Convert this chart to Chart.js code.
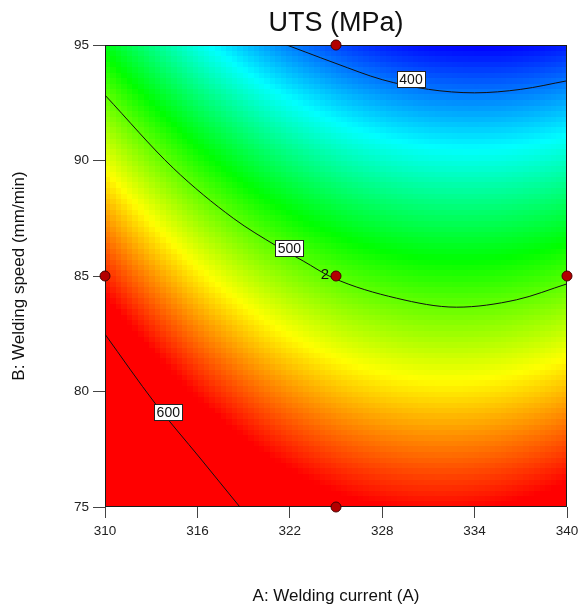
<!DOCTYPE html>
<html>
<head>
<meta charset="utf-8">
<script src="https://cdn.jsdelivr.net/npm/chart.js@4.4.1/dist/chart.umd.min.js"></script>
<style>
  html, body { margin:0; padding:0; background:#fff; }
  #wrap { width:580px; height:609px; position:relative; }
</style>
</head>
<body>
<div id="wrap"><canvas id="chart" width="580" height="609"></canvas></div>
<script>
/********************
 * Data
 ********************/
const chartTitle = "UTS (MPa)";
const currentRange = [310, 340];            // A: Welding current (A)
const speedRange = [75, 95];                // B: Welding speed (mm/min)
const currentTicks = [310, 316, 322, 328, 334, 340];
const speedTicks = [75, 80, 85, 90, 95];

// quadratic response surface in coded units: b0, A, B, AB, A^2, B^2
const utsModel = [498.4, -40.8, -99.9, -7.0, 38.3, -7.7];
// UTS values shown as pure blue / pure red
const colorRange = [376, 585];

// design points
const pointCurrent = [325, 310, 325, 340, 325];
const pointSpeed = [95, 85, 85, 85, 75];
const pointCount = [1, 1, 2, 1, 1];

// contour lines
const contourLevels = [400, 500, 600];
const contour400A = [321.8, 323, 325, 328, 331, 334, 337, 340];
const contour400B = [95, 94.7, 94.2, 93.5, 93.08, 92.93, 93.08, 93.45];
const contour500A = [310, 314.43, 318.33, 321.14, 322.87, 324.8, 328.93, 332.82, 336.72, 340];
const contour500B = [92.83, 89.67, 87.5, 86.3, 85.65, 84.92, 84.04, 83.65, 83.97, 84.66];
const contour600A = [310, 313.24, 316.17, 318.76];
const contour600B = [82.48, 79.50, 77.12, 75.0];
const contourLabelA = [329.87, 321.97, 314.11];
const contourLabelB = [93.51, 86.21, 79.11];

/********************
 * Helpers
 ********************/
const FONT = "Arial, 'Liberation Sans', sans-serif";
const GRID_CELLS = 84;
const COLOR_STOPS = [[0,0,255],[0,255,255],[0,255,0],[255,255,0],[255,0,0]];

function uts(A, B){
  const a = (A - (currentRange[0] + currentRange[1]) / 2) / ((currentRange[1] - currentRange[0]) / 2);
  const b = (B - (speedRange[0] + speedRange[1]) / 2) / ((speedRange[1] - speedRange[0]) / 2);
  const [b0, b1, b2, b12, b11, b22] = utsModel;
  return b0 + b1*a + b2*b + b12*a*b + b11*a*a + b22*b*b;
}

function colorFor(v){
  let t = (v - colorRange[0]) / (colorRange[1] - colorRange[0]);
  t = Math.max(0, Math.min(1, t)) * (COLOR_STOPS.length - 1);
  const i = Math.min(COLOR_STOPS.length - 2, Math.floor(t));
  const f = t - i;
  const c0 = COLOR_STOPS[i], c1 = COLOR_STOPS[i+1];
  const c = c0.map((x, k) => Math.round(x + (c1[k] - x) * f));
  return `rgb(${c[0]},${c[1]},${c[2]})`;
}

function toXY(xs, ys){
  return xs.map((x, i) => ({ x, y: ys[i] }));
}

/********************
 * Plugins
 ********************/
const heatmapPlugin = {
  id: "heatmap",
  beforeDatasetsDraw(chart){
    const { ctx, chartArea, scales: { x, y } } = chart;
    const dA = (currentRange[1] - currentRange[0]) / GRID_CELLS;
    const dB = (speedRange[1] - speedRange[0]) / GRID_CELLS;
    // shared cell edges so neighbouring cells never leave a gap
    const xEdge = [], yEdge = [];
    for(let i = 0; i <= GRID_CELLS; i++){
      xEdge.push(Math.round(x.getPixelForValue(currentRange[0] + i*dA)));
      yEdge.push(Math.round(y.getPixelForValue(speedRange[0] + i*dB)));
    }
    ctx.save();
    for(let i = 0; i < GRID_CELLS; i++){
      const A = currentRange[0] + (i + 0.5)*dA;
      for(let j = 0; j < GRID_CELLS; j++){
        const B = speedRange[0] + (j + 0.5)*dB;
        ctx.fillStyle = colorFor(uts(A, B));
        ctx.fillRect(xEdge[i], yEdge[j+1], xEdge[i+1] - xEdge[i], yEdge[j] - yEdge[j+1]);
      }
    }
    // frame
    ctx.strokeStyle = "#1a1a1a";
    ctx.lineWidth = 1;
    ctx.strokeRect(Math.round(chartArea.left) + 0.5, Math.round(chartArea.top) + 0.5,
      Math.round(chartArea.width) - 1, Math.round(chartArea.height) - 1);
    ctx.restore();
  }
};

const labelPlugin = {
  id: "labels",
  afterDatasetsDraw(chart){
    const { ctx, chartArea, scales: { x, y } } = chart;
    ctx.save();
    // title, centred over the plot
    ctx.font = `27px ${FONT}`;
    ctx.textAlign = "center";
    ctx.textBaseline = "middle";
    ctx.fillStyle = "#111";
    ctx.fillText(chartTitle, (chartArea.left + chartArea.right) / 2, 24);

    // contour labels
    ctx.font = `14px ${FONT}`;
    contourLevels.forEach((lvl, i) => {
      const cx = x.getPixelForValue(contourLabelA[i]);
      const cy = y.getPixelForValue(contourLabelB[i]);
      const w = 28, h = 16;
      const l = Math.round(cx - w/2) + 0.5, t = Math.round(cy - h/2) + 0.5;
      ctx.fillStyle = "#fff";
      ctx.fillRect(l, t, w, h);
      ctx.strokeStyle = "#222";
      ctx.lineWidth = 1;
      ctx.strokeRect(l, t, w, h);
      ctx.fillStyle = "#111";
      ctx.fillText(String(lvl), cx, cy + 1);
    });
    // replicate counts
    ctx.textAlign = "right";
    ctx.font = `15px ${FONT}`;
    pointCount.forEach((n, i) => {
      if(n < 2) return;
      const px = x.getPixelForValue(pointCurrent[i]);
      const py = y.getPixelForValue(pointSpeed[i]);
      ctx.fillStyle = "#111";
      ctx.fillText(String(n), px - 7, py - 1);
    });
    ctx.restore();
  }
};

/********************
 * Chart
 ********************/
const lineStyle = {
  showLine: true,
  borderColor: "#111",
  borderWidth: 1,
  pointRadius: 0,
  cubicInterpolationMode: "monotone",
  fill: false
};

new Chart(document.getElementById("chart"), {
  type: "scatter",
  data: {
    datasets: [
      { label: "Design points", data: toXY(pointCurrent, pointSpeed),
        pointRadius: 5, pointBackgroundColor: "#b30000", pointBorderColor: "#4a0000",
        pointBorderWidth: 1, clip: false, order: 0 },
      { label: "400", data: toXY(contour400A, contour400B), ...lineStyle, order: 1 },
      { label: "500", data: toXY(contour500A, contour500B), ...lineStyle, order: 1 },
      { label: "600", data: toXY(contour600A, contour600B), ...lineStyle, order: 1 }
    ]
  },
  options: {
    responsive: false,
    animation: false,
    events: [],
    layout: { padding: { top: 45, right: 13, bottom: 0, left: 0 } },
    plugins: {
      legend: { display: false },
      tooltip: { enabled: false },
      title: { display: false }
    },
    scales: {
      x: {
        type: "linear",
        min: currentRange[0],
        max: currentRange[1],
        afterBuildTicks(scale){ scale.ticks = currentTicks.map(v => ({ value: v })); },
        afterFit(scale){ scale.height = 102; scale.paddingLeft = 0; scale.paddingRight = 0; },
        ticks: { color: "#222", font: { family: FONT, size: 13.5 }, padding: 5, maxRotation: 0 },
        grid: { drawOnChartArea: false, drawTicks: true, tickLength: 11, color: "#444" },
        border: { display: false },
        title: { display: true, text: "A: Welding current (A)", color: "#111",
          font: { family: FONT, size: 17 }, padding: { top: 0, bottom: 2 } }
      },
      y: {
        type: "linear",
        min: speedRange[0],
        max: speedRange[1],
        afterBuildTicks(scale){ scale.ticks = speedTicks.map(v => ({ value: v })); },
        afterFit(scale){ scale.width = 105; scale.paddingTop = 0; scale.paddingBottom = 0; },
        ticks: { color: "#222", font: { family: FONT, size: 13.5 }, padding: 4 },
        grid: { drawOnChartArea: false, drawTicks: true, tickLength: 12, color: "#444" },
        border: { display: false },
        title: { display: true, text: "B: Welding speed (mm/min)", color: "#111",
          font: { family: FONT, size: 17 }, padding: { top: 9, bottom: 0 } }
      }
    }
  },
  plugins: [heatmapPlugin, labelPlugin]
});
</script>
</body>
</html>
